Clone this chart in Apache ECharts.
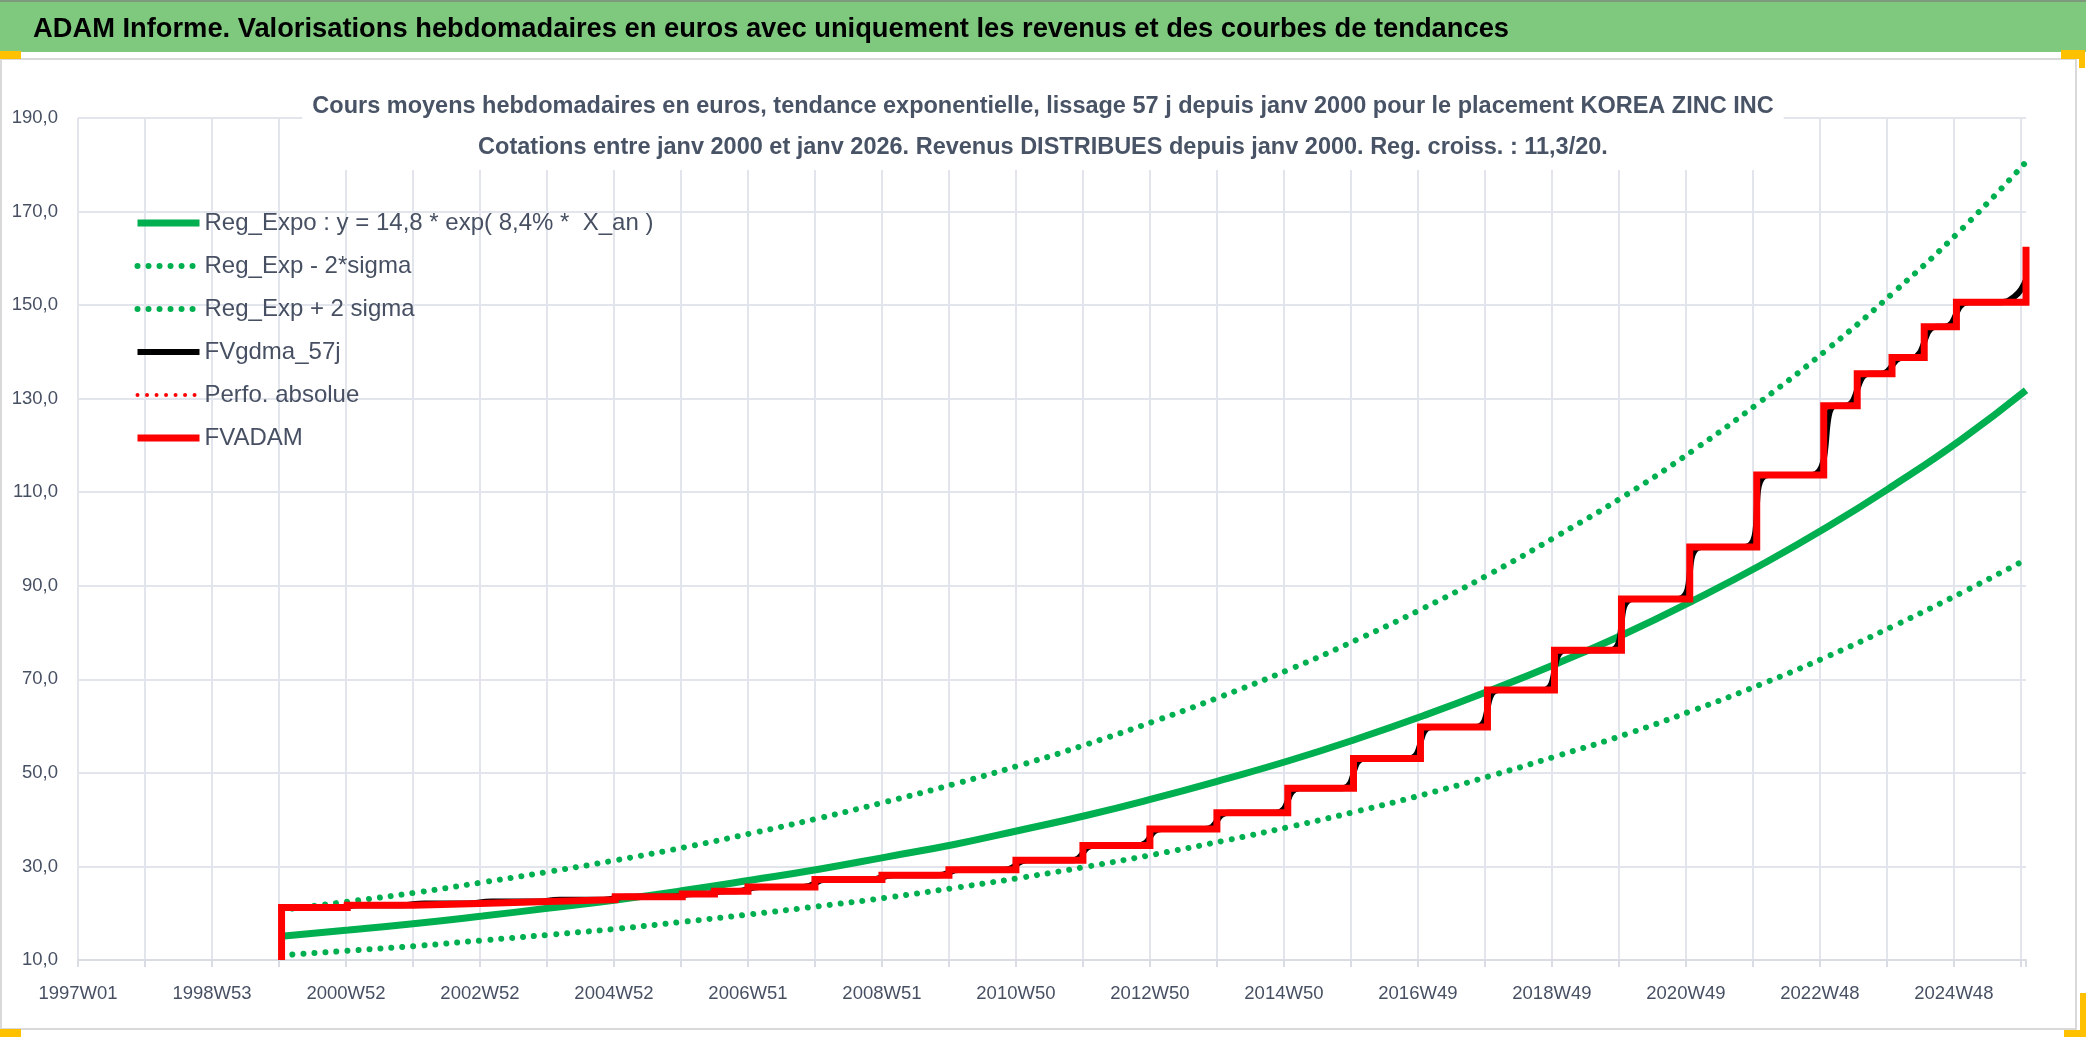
<!DOCTYPE html>
<html>
<head>
<meta charset="utf-8">
<script src="https://cdn.jsdelivr.net/npm/echarts@6/dist/echarts.min.js"></script>
<style>
  html, body { margin: 0; padding: 0; background: #fff; }
  #main { width: 2086px; height: 1037px; }
</style>
</head>
<body>
<div id="main"></div>
<script>
// axe X : index de semaine depuis 1997W01, une etiquette toutes les 104 semaines
var tickLabels = ['1997W01', '1998W53', '2000W52', '2002W52', '2004W52', '2006W51', '2008W51',
  '2010W50', '2012W50', '2014W50', '2016W49', '2018W49', '2020W49', '2022W48', '2024W48'];
var lastWeek = 1512;

// courbes de tendance (une valeur par an)
var trendWeeks = [158, 210, 262, 314, 366, 419, 471, 523, 575, 627, 680, 732, 784, 836,
  888, 941, 993, 1045, 1097, 1149, 1202, 1254, 1306, 1358, 1410, 1462, 1512];
var expoValues = [15.1, 16.4, 17.8, 19.4, 21.1, 22.9, 24.9, 27.1, 29.4, 32.0, 34.7, 37.8, 41.0, 44.6,
  48.5, 52.7, 57.3, 62.3, 67.7, 73.5, 79.9, 86.9, 94.4, 102.6, 111.6, 121.3, 131.8];
var lowerValues = [11.0, 12.0, 13.0, 14.2, 15.4, 16.7, 18.2, 19.8, 21.5, 23.3, 25.4, 27.6, 30.0, 32.6,
  35.4, 38.5, 41.8, 45.4, 49.4, 53.7, 58.3, 63.4, 68.9, 74.9, 81.5, 88.5, 95.6];
var upperValues = [20.7, 22.5, 24.4, 26.6, 28.9, 31.4, 34.1, 37.1, 40.3, 43.8, 47.6, 51.7, 56.2, 61.1,
  66.4, 72.2, 78.5, 85.3, 92.7, 100.8, 109.5, 119.0, 129.4, 140.6, 152.9, 166.2, 180.6];

// FVADAM : paliers (semaine du saut, niveau apres le saut)
var adamWeeks = [158, 158, 209, 260, 312, 365, 417, 469, 494, 520, 572, 624, 676, 728, 780, 832,
  884, 939, 990, 1042, 1094, 1146, 1198, 1251, 1303, 1355, 1381, 1408, 1433, 1458, 1512];
var adamValues = [10, 21.2, 21.7, 22.1, 22.5, 22.9, 23.5, 24.1, 24.7, 25.6, 27.2, 28.1, 29.3, 31.3, 34.5, 38.0,
  41.5, 46.7, 53.1, 59.8, 67.7, 76.2, 87.2, 98.3, 113.7, 128.5, 135.3, 138.8, 145.4, 150.6, 162.5];

// FVgdma_57j : moyenne lissee
var gdmaWeeks = [158, 200, 218, 251, 269, 303, 321, 356, 374, 408, 426, 460, 478, 485, 503, 511, 529,
  563, 581, 615, 633, 667, 685, 719, 737, 771, 789, 823, 841, 875, 893, 930, 948, 981, 999,
  1033, 1051, 1085, 1103, 1137, 1155, 1189, 1207, 1242, 1260, 1294, 1312, 1346, 1364,
  1372, 1390, 1399, 1417, 1424, 1442, 1449, 1467, 1490, 1503, 1512];
var gdmaValues = [21.2, 21.2, 21.7, 21.7, 22.1, 22.1, 22.5, 22.5, 22.9, 22.9, 23.5, 23.5, 24.1, 24.1, 24.7, 24.7, 25.6,
  25.6, 27.2, 27.2, 28.1, 28.1, 29.3, 29.3, 31.3, 31.3, 34.5, 34.5, 38.0, 38.0, 41.5, 41.5, 46.7, 46.7, 53.1,
  53.1, 59.8, 59.8, 67.7, 67.7, 76.2, 76.2, 87.2, 87.2, 98.3, 98.3, 113.7, 113.7, 128.5,
  128.5, 135.3, 135.3, 138.8, 138.8, 145.4, 145.4, 150.6, 150.6, 151.8, 155.4];

var seriesNames = ['Reg_Expo : y = 14,8 * exp( 8,4% *  X_an )', 'Reg_Exp - 2*sigma', 'Reg_Exp + 2 sigma',
  'FVgdma_57j', 'Perfo. absolue', 'FVADAM'];

var pageTitle = 'ADAM Informe. Valorisations hebdomadaires en euros avec uniquement les revenus et des courbes de tendances';
var chartTitle = [
  'Cours moyens hebdomadaires en euros, tendance exponentielle, lissage 57 j depuis janv 2000 pour le placement KOREA ZINC INC',
  'Cotations entre janv 2000 et janv 2026. Revenus DISTRIBUES depuis janv 2000. Reg. croiss. : 11,3/20.'
];

var FONT = "'Liberation Sans', Arial, sans-serif";
var GREEN = '#00B050', RED = '#FF0000', TXT = '#475063', GRID = '#e2e5eb';

function pairs(xs, ys) {
  return xs.map(function (x, i) { return [x, ys[i]]; });
}

var myChart = echarts.init(document.getElementById('main'));
myChart.setOption({
  animation: false,
  backgroundColor: '#fff',
  title: {
    text: chartTitle.join('\n'),
    left: 'center',
    top: 83,
    padding: [3, 10, 2, 10],
    backgroundColor: '#fff',
    textStyle: { fontFamily: FONT, fontWeight: 'bold', fontSize: 23.5, color: '#485366', lineHeight: 41 }
  },
  legend: {
    orient: 'vertical',
    left: 134,
    top: 208,
    padding: 0,
    itemWidth: 62,
    itemHeight: 14,
    itemGap: 13,
    selectedMode: false,
    itemStyle: { opacity: 0 },
    textStyle: { fontFamily: FONT, fontSize: 24, color: TXT, lineHeight: 30 },
    data: [
      { name: seriesNames[0], lineStyle: { width: 7 } },
      { name: seriesNames[1], lineStyle: { width: 6 } },
      { name: seriesNames[2], lineStyle: { width: 6 } },
      { name: seriesNames[3], lineStyle: { width: 6 } },
      { name: seriesNames[4], lineStyle: { width: 4 } },
      { name: seriesNames[5], lineStyle: { width: 7 } }
    ]
  },
  grid: { left: 78, right: 60, top: 118, bottom: 77 },
  xAxis: {
    type: 'value',
    min: 0,
    max: lastWeek,
    interval: 52,
    axisLine: { show: true, lineStyle: { color: '#d9dce2', width: 2 } },
    axisTick: { show: true, length: 7, lineStyle: { color: '#d9dce2', width: 2 } },
    splitLine: { show: true, showMaxLine: false, lineStyle: { color: GRID, width: 2 } },
    axisLabel: {
      margin: 24,
      fontFamily: FONT, fontSize: 18.5, color: TXT,
      formatter: function (v) {
        var i = v / 104;
        return Number.isInteger(i) && tickLabels[i] ? tickLabels[i] : '';
      }
    }
  },
  yAxis: {
    type: 'value',
    min: 10,
    max: 190,
    interval: 20,
    axisLine: { show: false },
    axisTick: { show: false },
    splitLine: { show: true, lineStyle: { color: GRID, width: 2 } },
    axisLabel: {
      margin: 20,
      fontFamily: FONT, fontSize: 18.5, color: TXT,
      formatter: function (v) { return v.toFixed(1).replace('.', ','); }
    }
  },
  graphic: [
    { type: 'rect', shape: { x: 0, y: 0, width: 2086, height: 52 }, style: { fill: '#7FC97F' } },
    { type: 'rect', shape: { x: 0, y: 0, width: 2086, height: 2 }, style: { fill: '#7d9a7d' } },
    { type: 'text', x: 33, y: 29, style: { text: pageTitle, font: 'bold 27.3px ' + FONT, fill: '#000', verticalAlign: 'middle' } },
    { type: 'rect', shape: { x: 1, y: 59, width: 2075, height: 970 }, style: { fill: null, stroke: '#d9d9d9', lineWidth: 2 } },
    { type: 'rect', shape: { x: 0, y: 51, width: 21, height: 8 }, style: { fill: '#FFC000' } },
    { type: 'rect', shape: { x: 2061, y: 50, width: 24, height: 9 }, style: { fill: '#FFC000' } },
    { type: 'rect', shape: { x: 2079, y: 50, width: 6, height: 18 }, style: { fill: '#FFC000' } },
    { type: 'rect', shape: { x: 0, y: 1029, width: 21, height: 8 }, style: { fill: '#FFC000' } },
    { type: 'rect', shape: { x: 2064, y: 1030, width: 22, height: 7 }, style: { fill: '#FFC000' } },
    { type: 'rect', shape: { x: 2080, y: 993, width: 6, height: 44 }, style: { fill: '#FFC000' } }
  ],
  series: [
    {
      name: seriesNames[0], type: 'line', smooth: true, symbol: 'none',
      data: pairs(trendWeeks, expoValues),
      itemStyle: { color: GREEN },
      lineStyle: { color: GREEN, width: 7 }
    },
    {
      name: seriesNames[1], type: 'line', smooth: true, symbol: 'none',
      data: pairs(trendWeeks, lowerValues),
      itemStyle: { color: GREEN },
      lineStyle: { color: GREEN, width: 6, type: [0.01, 11], cap: 'round' }
    },
    {
      name: seriesNames[2], type: 'line', smooth: true, symbol: 'none',
      data: pairs(trendWeeks, upperValues),
      itemStyle: { color: GREEN },
      lineStyle: { color: GREEN, width: 6, type: [0.01, 11], cap: 'round' }
    },
    {
      name: seriesNames[3], type: 'line', smooth: true, symbol: 'none',
      data: pairs(gdmaWeeks, gdmaValues),
      itemStyle: { color: '#000' },
      lineStyle: { color: '#000', width: 6 }
    },
    {
      name: seriesNames[4], type: 'line', symbol: 'none',
      data: [],
      itemStyle: { color: RED },
      lineStyle: { color: RED, width: 4, type: [0.01, 9.5], cap: 'round' }
    },
    {
      name: seriesNames[5], type: 'line', step: 'end', symbol: 'none',
      data: pairs(adamWeeks, adamValues),
      itemStyle: { color: RED },
      lineStyle: { color: RED, width: 7, join: 'miter' }
    }
  ]
});
</script>
</body>
</html>
